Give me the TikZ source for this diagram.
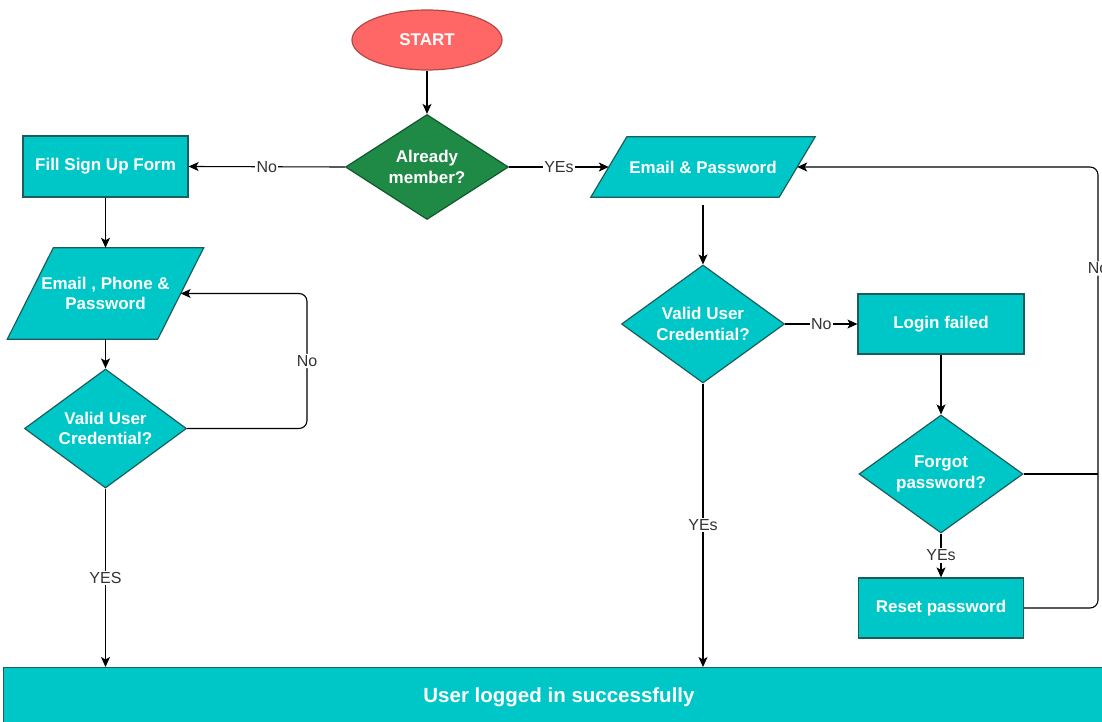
\documentclass[tikz,border=0pt]{standalone}
\usepackage{fontspec}
\setmainfont{Liberation Sans}
\usetikzlibrary{shapes.geometric,arrows.meta,backgrounds}

\definecolor{tealfill}{RGB}{0,199,199}
\definecolor{tealline}{RGB}{28,92,92}
\definecolor{greenfill}{RGB}{30,138,70}
\definecolor{greenline}{RGB}{18,88,44}
\definecolor{startfill}{RGB}{255,102,102}
\definecolor{startline}{RGB}{178,74,70}
\definecolor{labelgray}{RGB}{51,51,51}

\begin{document}
\begin{tikzpicture}[x=1pt,y=-1pt,
  nodetext/.style={text=white,font=\bfseries\fontsize{17}{20.5}\selectfont,align=center},
  process/.style={nodetext,rectangle,draw=tealline,fill=tealfill,line width=1.2pt,inner sep=0pt},
  decision/.style={nodetext,diamond,draw=tealline,fill=tealfill,line width=1.2pt,inner sep=0pt},
  iotext/.style={nodetext,rectangle,inner sep=0pt},
  iobox/.style={draw=tealline,fill=tealfill,line width=1.2pt},
  flow/.style={line width=1.1pt,-{Stealth[length=10pt,width=9pt,inset=2.5pt]}},
  link/.style={line width=1.1pt},
  lbl/.style={fill=white,text=labelgray,font=\fontsize{16}{18}\selectfont,inner sep=1.5pt},
]
\useasboundingbox (0,0) rectangle (1102,722);
\clip (0,0) rectangle (1102,722);

% start terminal
\node[ellipse,draw=startline,fill=startfill,line width=1.2pt,
      minimum width=150pt,minimum height=60pt,inner sep=0pt,nodetext] (start) at (427,40) {START};

% membership check
\node[decision,draw=greenline,fill=greenfill,aspect=1.55,
      minimum width=163pt,minimum height=105pt] (member) at (427,167) {Already\\member?};

% sign-up branch
\node[process,minimum width=165pt,minimum height=61pt] (signup) at (105.5,166.5) {Fill Sign Up Form};
\node[iotext,minimum width=150pt,minimum height=91pt] (regdata) at (105.5,293.5) {Email , Phone \&\\Password};
\node[decision,aspect=1.36,minimum width=162pt,minimum height=119pt] (regvalid) at (105.5,428.5) {Valid User\\Credential?};

% login branch
\node[iotext,minimum width=188pt,minimum height=60pt] (login) at (703,167) {Email \& Password};
\node[decision,aspect=1.38,minimum width=163pt,minimum height=118pt] (logvalid) at (703,324) {Valid User\\Credential?};
\node[process,minimum width=166pt,minimum height=60pt] (failed) at (941,324) {Login failed};
\node[decision,aspect=1.39,minimum width=164pt,minimum height=118pt] (forgot) at (941,474) {Forgot\\password?};
\node[process,minimum width=165pt,minimum height=60pt] (reset) at (941,608) {Reset password};

% result bar
\node[rectangle,draw=tealline,fill=tealfill,line width=1.2pt,minimum width=1112pt,minimum height=70pt,
      text=white,font=\bfseries\fontsize{20.5}{24}\selectfont,anchor=north west] (done) at (3,667) {};
\node[text=white,font=\bfseries\fontsize{20.5}{24}\selectfont] (donetext) at (559,697) {User logged in successfully};

% input/output parallelograms behind their texts
\begin{pgfonlayer}{background}
  \draw[iobox] ([xshift=23pt]regdata.north west) -- ([xshift=23pt]regdata.north east)
    -- ([xshift=-23pt]regdata.south east) -- ([xshift=-23pt]regdata.south west) -- cycle;
  \draw[iobox] ([xshift=18pt]login.north west) -- ([xshift=18pt]login.north east)
    -- ([xshift=-18pt]login.south east) -- ([xshift=-18pt]login.south west) -- cycle;
\end{pgfonlayer}

% connectors
\draw[flow] (start) -- (member);
\draw[flow] (member.west) -- node[lbl] {No} (signup.east);
\draw[flow] (member.east) -- node[lbl] {YEs} (login.west);

\draw[flow] (signup) -- (regdata);
\draw[flow] (regdata) -- (regvalid);
\draw[flow,rounded corners=8pt] (regvalid.east) -- (307,428.5) -- node[lbl] {No} (307,293.5) -- (regdata.east);
\draw[flow] (regvalid.south) -- node[lbl] {YES} (regvalid.south |- done.north);

\draw[flow,shorten <=8pt] (login.south) -- (logvalid.north);
\draw[flow] (logvalid.east) -- node[lbl] {No} (failed.west);
\draw[flow] (logvalid.south) -- node[lbl] {YEs} (logvalid.south |- done.north);
\draw[flow] (failed) -- (forgot);
\draw[flow] (forgot.south) -- node[lbl] {YEs} (reset.north);

\coordinate (merge) at (1098,474);
\draw[link] (forgot.east) -- (merge);
\draw[flow,rounded corners=8pt] (reset.east) -- (1098,608) -- node[lbl,pos=0.77] {No} (1098,167) -- (login.east);
\end{tikzpicture}
\end{document}
